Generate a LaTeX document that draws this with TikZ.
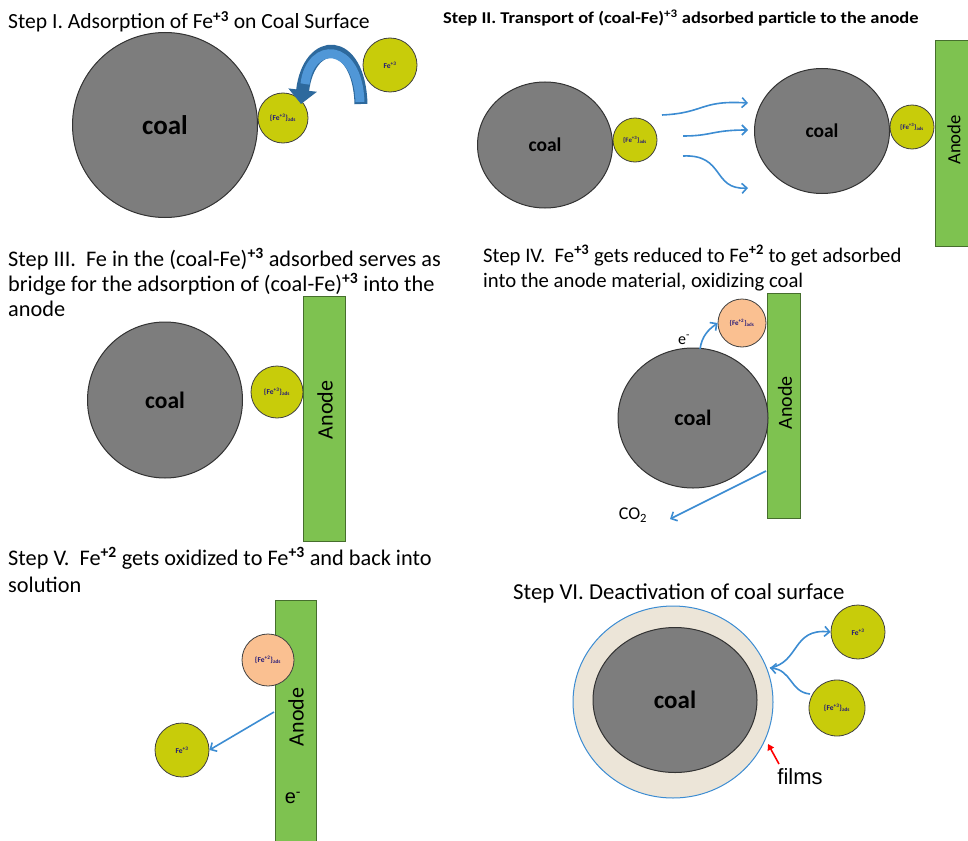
\documentclass[tikz,border=0pt]{standalone}
\usepackage{fontspec}
\setmainfont{Carlito}
\newfontfamily\arialf{Liberation Sans}
\usetikzlibrary{shapes.geometric,arrows.meta}
\definecolor{coalgray}{RGB}{125,125,125}
\definecolor{feyellow}{RGB}{200,204,10}
\definecolor{feorange}{RGB}{250,192,145}
\definecolor{anodegreen}{RGB}{126,194,80}
\definecolor{anodeedge}{RGB}{70,110,45}
\definecolor{flowblue}{RGB}{60,140,210}
\definecolor{navytxt}{RGB}{35,25,120}
\definecolor{filmbeige}{RGB}{236,229,216}
\newcommand{\fs}[2]{\fontsize{#1}{#2}\selectfont}
\newcommand{\supb}[1]{\textsuperscript{\textbf{#1}}}
\newcommand{\feads}[1]{\{Fe\textsuperscript{+#1}\}\textsubscript{ads}}
\begin{document}
\begin{tikzpicture}[x=1pt,y=-1pt,
  coal/.style={ellipse, draw=black!80, line width=1pt, fill=coalgray, inner sep=0pt, font=\bfseries},
  feion/.style={circle, draw=black!75, fill=feyellow, line width=0.8pt, inner sep=0pt, text=navytxt, font=\fs{7.5}{8}\bfseries},
  fetwo/.style={feion, fill=feorange},
  anode/.style={rectangle, draw=anodeedge, fill=anodegreen, line width=0.8pt, inner sep=0pt},
  anodetxt/.style={rotate=90, inner sep=0pt},
  flow/.style={draw=flowblue, line width=1.6pt, -{Straight Barb[length=5pt,width=10pt]}},
  ttl/.style={anchor=base west, inner sep=0pt, font=\fs{22.3}{26}},
]
\useasboundingbox (0,0) rectangle (968,840);

% ---------- Step I ----------
\node[ttl, font=\fs{21.6}{25}] (t1) at (8,29) {Step I. Adsorption of Fe\supb{+3} on Coal Surface};
\node[coal, minimum width=185pt, minimum height=185pt, font=\fs{27}{30}\bfseries] (c1) at (165,125) {coal};
\node[feion, minimum size=50pt] (a1) at (283,118) {\feads{3}};
\node[feion, minimum size=54pt] (f1) at (390,65) {Fe\textsuperscript{+3}};
\coordinate (b1s) at (361,104);
\coordinate (b1e) at (301,104);
\draw[draw=flowblue!75!black, line width=13pt, -{Triangle[length=14pt,width=28pt]}]
  (b1s) .. controls (359,36) and (309,36) .. (b1e);
\draw[draw=flowblue!90!white, line width=9pt]
  (360,102) .. controls (358,41) and (310,41) .. (305,84);

% ---------- Step II ----------
\node[ttl, font=\fs{16.5}{19}\bfseries] (t2) at (443,24) {\scalebox{1.12}[1]{Step II. Transport of (coal-Fe)\supb{+3} adsorbed particle to the anode}};
\node[coal, minimum width=135pt, minimum height=126pt, font=\fs{19.5}{22}\bfseries] (c2) at (545,145) {coal};
\node[feion, minimum size=44pt, font=\fs{6.8}{7}\bfseries] (a2) at (635,140) {\feads{3}};
\coordinate (p1s) at (662,115); \coordinate (p1e) at (748,103);
\coordinate (p2s) at (683,136); \coordinate (p2e) at (748,130);
\coordinate (p3s) at (683,156); \coordinate (p3e) at (748,188);
\draw[flow] (p1s) .. controls (705,113) and (700,100) .. (p1e);
\draw[flow] (p2s) .. controls (712,136) and (712,130) .. (p2e);
\draw[flow] (p3s) .. controls (725,154) and (712,190) .. (p3e);
\node[coal, minimum width=135pt, minimum height=125pt, font=\fs{19.5}{22}\bfseries] (c2b) at (822,131) {coal};
\node[feion, minimum size=44pt, font=\fs{6.8}{7}\bfseries] (a2b) at (912,127) {\feads{3}};
\node[anode, minimum width=40pt, minimum height=206pt] (n2) at (955,143) {};
\node[anodetxt, font=\fs{18.7}{20}] (n2t) at (954,140) {Anode};

% ---------- Step III ----------
\node[ttl] (t3a) at (8,266) {Step III.\ \ Fe in the (coal-Fe)\supb{+3} adsorbed serves as};
\node[ttl] (t3b) at (8,291) {bridge for the adsorption of (coal-Fe)\supb{+3} into the};
\node[ttl] (t3c) at (8,316) {anode};
\node[coal, minimum width=155pt, minimum height=156pt, font=\fs{23.5}{26}\bfseries] (c3) at (165,400) {coal};
\node[feion, minimum size=52pt] (a3) at (277,392) {\feads{3}};
\node[anode, minimum width=42pt, minimum height=245pt, anchor=north west] (n3) at (303,296) {};
\node[anodetxt, font=\fs{22}{24}] (n3t) at (325,410) {Anode};

% ---------- Step IV ----------
\node[ttl, font=\fs{20.7}{24}] (t4a) at (483,262) {Step IV.\ \ Fe\supb{+3} gets reduced to Fe\supb{+2} to get adsorbed};
\node[ttl, font=\fs{20.7}{24}] (t4b) at (483,287) {into the anode material, oxidizing coal};
\node[anode, minimum width=33pt, minimum height=225pt, anchor=north west] (n4) at (767,293) {};
\node[anodetxt, font=\fs{20}{22}] (n4t) at (785,403) {Anode};
\node[coal, minimum width=150pt, minimum height=140pt, font=\fs{22}{24}\bfseries] (c4) at (693,418) {coal};
\node[fetwo, minimum size=48pt, font=\fs{7}{8}\bfseries] (o4) at (742,323) {\feads{2}};
\node[font=\fs{16}{18}] (e4) at (684,340) {e\textsuperscript{-}};
\coordinate (e4s) at (700,349);
\draw[flow] (e4s) .. controls (702,336) and (708,330) .. (o4.west);
\coordinate (co4s) at (766,471);
\coordinate (co4e) at (670,519);
\draw[flow] (co4s) -- (co4e);
\node[font=\fs{18}{20}] (co4) at (633,515) {CO\textsubscript{2}};

% ---------- Step V ----------
\node[ttl] (t5a) at (8,565) {Step V.\ \ Fe\supb{+2} gets oxidized to Fe\supb{+3} and back into};
\node[ttl] (t5b) at (8,592) {solution};
\node[anode, minimum width=41pt, minimum height=260pt, anchor=north west] (n5) at (275,600) {};
\node[fetwo, minimum size=52pt] (o5) at (268,660) {\feads{2}};
\node[anodetxt, font=\fs{22}{24}] (n5t) at (296,717) {Anode};
\node[font=\fs{20}{22}\arialf] (e5) at (293,798) {e\textsuperscript{-}};
\node[feion, minimum size=54pt] (f5) at (182,750) {Fe\textsuperscript{+3}};
\coordinate (v5s) at (274,712);
\draw[flow] (v5s) -- (f5.east);

% ---------- Step VI ----------
\node[ttl, font=\fs{22.8}{26}] (t6) at (513,599) {Step VI. Deactivation of coal surface};
\node[ellipse, draw=flowblue, line width=1pt, fill=filmbeige, minimum width=200pt, minimum height=192pt] (r6) at (673,702) {};
\node[coal, minimum width=164pt, minimum height=145pt, font=\fs{25}{27}\bfseries] (c6) at (675,700) {coal};
\node[feion, minimum size=54pt] (f6) at (858,632) {Fe\textsuperscript{+3}};
\node[feion, minimum size=56pt] (a6) at (837,708) {\feads{3}};
\coordinate (r6p) at (770,668);
\coordinate (a6s) at (810,694);
\draw[flow] (a6s) .. controls (790,692) and (792,670) .. (r6p);
\draw[flow] (r6p) .. controls (800,662) and (792,628) .. (f6.west);
\coordinate (red1) at (779,764);
\coordinate (red2) at (768,744);
\draw[draw=red, line width=1.6pt, -{Triangle[length=6pt,width=7pt]}] (red1) -- (red2);
\node[font=\fs{22}{24}\arialf] (films) at (800,777) {films};
\end{tikzpicture}
\end{document}
